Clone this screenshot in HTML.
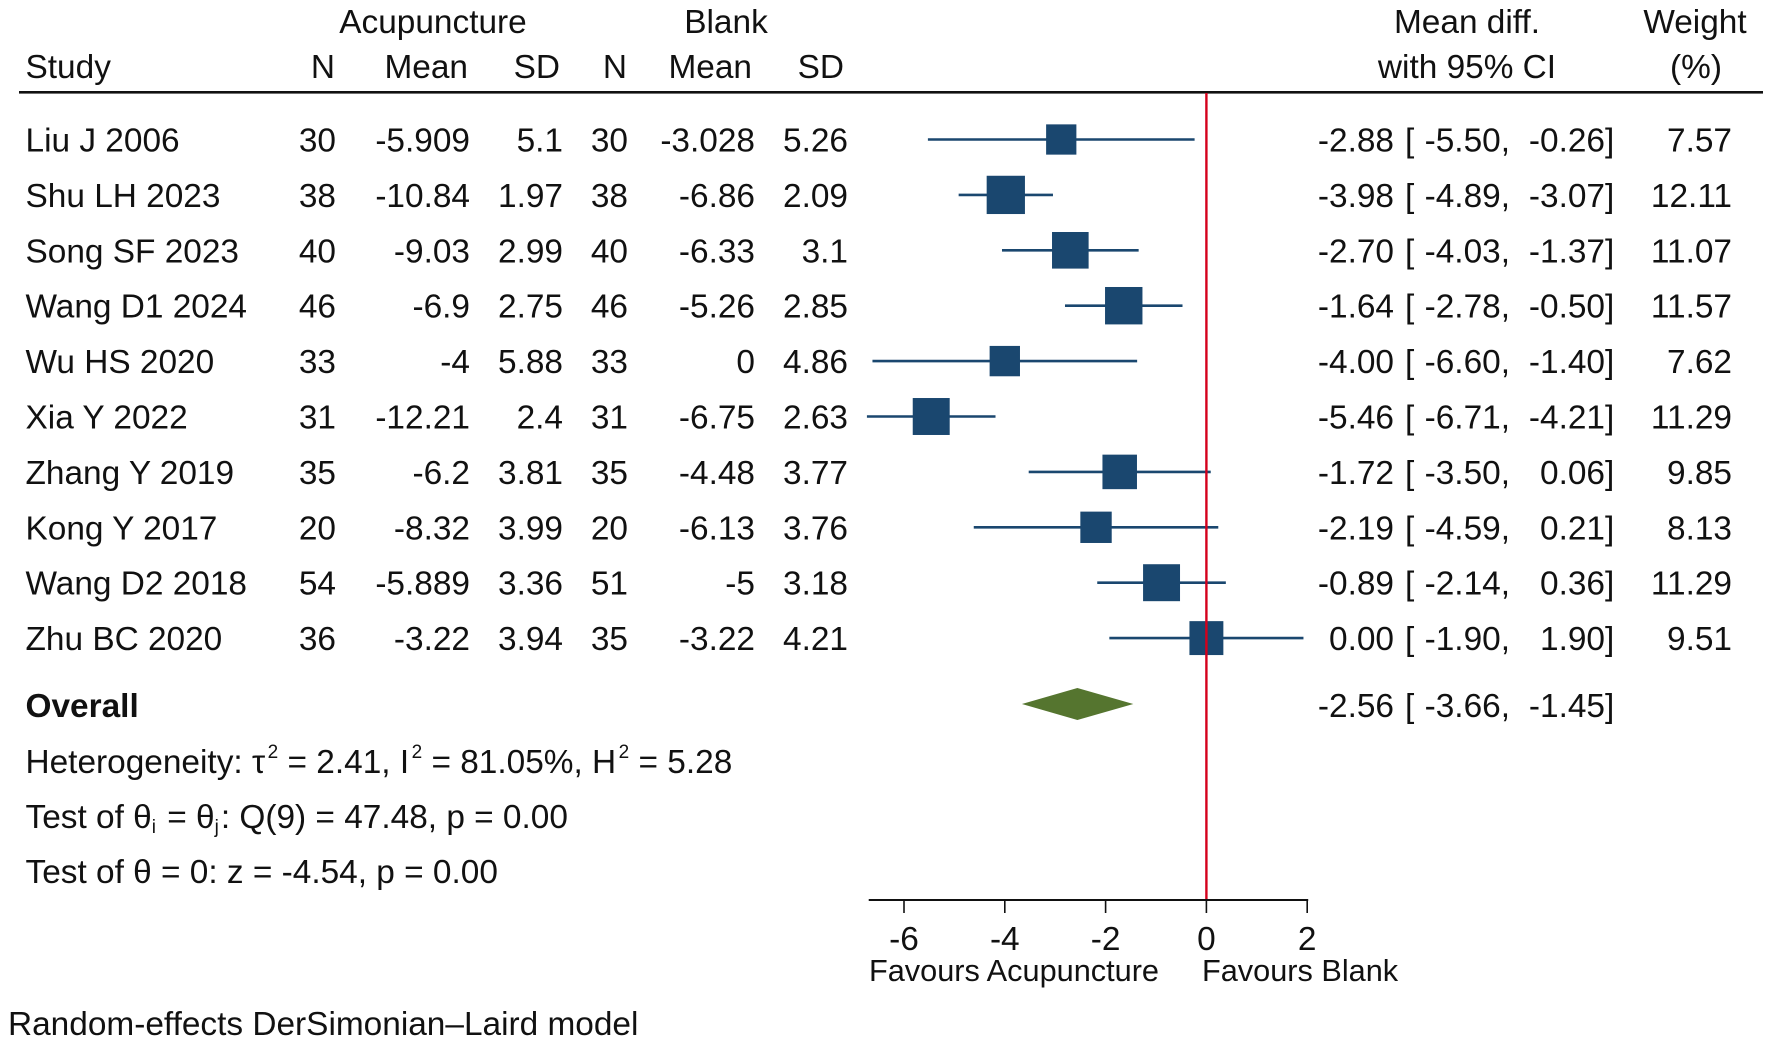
<!DOCTYPE html>
<html lang="en">
<head>
<meta charset="utf-8">
<title>Forest plot: Acupuncture vs Blank</title>
<style>
html,body{margin:0;padding:0;background:#fff;width:1772px;height:1044px;overflow:hidden}
svg{display:block}
text{font-family:"Liberation Sans",Arial,sans-serif;font-size:33.4px;fill:#111}
</style>
</head>
<body>
<svg id="plot" width="1772" height="1044" viewBox="0 0 1772 1044" xmlns="http://www.w3.org/2000/svg">
  <rect x="0" y="0" width="1772" height="1044" fill="#fff"/>
  <g id="header">
    <text x="433" y="33" text-anchor="middle">Acupuncture</text>
    <text x="726" y="33" text-anchor="middle">Blank</text>
    <text x="25.5" y="78">Study</text>
    <text x="335" y="78" text-anchor="end">N</text>
    <text x="468" y="78" text-anchor="end">Mean</text>
    <text x="560" y="78" text-anchor="end">SD</text>
    <text x="627" y="78" text-anchor="end">N</text>
    <text x="752" y="78" text-anchor="end">Mean</text>
    <text x="844" y="78" text-anchor="end">SD</text>
    <text x="1467" y="33" text-anchor="middle">Mean diff.</text>
    <text x="1467" y="78" text-anchor="middle">with 95% CI</text>
    <text x="1695" y="33" text-anchor="middle">Weight</text>
    <text x="1696" y="78" text-anchor="middle">(%)</text>
  </g>
  <rect x="19" y="91" width="1744" height="2.6" fill="#111"/>
  <g id="rows"></g>
  <g id="marks"></g>
  <g id="axis"></g>
  <g id="overall">
    <text x="25.5" y="717" font-weight="bold" style="font-weight:bold">Overall</text>
    <text x="25.5" y="773">Heterogeneity: τ<tspan dx="2.5" dy="-15" style="font-size:19px">2</tspan><tspan dy="15"> = 2.41, I</tspan><tspan dx="2.5" dy="-15" style="font-size:19px">2</tspan><tspan dy="15"> = 81.05%, H</tspan><tspan dx="2.5" dy="-15" style="font-size:19px">2</tspan><tspan dy="15"> = 5.28</tspan></text>
    <text x="25.5" y="828">Test of θ<tspan dy="5" style="font-size:19px">i</tspan><tspan dx="2" dy="-5"> = θ</tspan><tspan dy="5" style="font-size:19px">j</tspan><tspan dx="2" dy="-5">: Q(9) = 47.48, p = 0.00</tspan></text>
    <text x="25.5" y="883">Test of θ = 0: z = -4.54, p = 0.00</text>
    <text x="869" y="981" style="font-size:30.7px">Favours Acupuncture</text>
    <text x="1202" y="981" style="font-size:30.7px">Favours Blank</text>
    <text x="8" y="1035">Random-effects DerSimonian–Laird model</text>
  </g>
</svg>
<script>
const studies = ["Liu J 2006","Shu LH 2023","Song SF 2023","Wang D1 2024","Wu HS 2020","Xia Y 2022","Zhang Y 2019","Kong Y 2017","Wang D2 2018","Zhu BC 2020"];
const acuN = ["30","38","40","46","33","31","35","20","54","36"];
const acuMean = ["-5.909","-10.84","-9.03","-6.9","-4","-12.21","-6.2","-8.32","-5.889","-3.22"];
const acuSD = ["5.1","1.97","2.99","2.75","5.88","2.4","3.81","3.99","3.36","3.94"];
const blankN = ["30","38","40","46","33","31","35","20","51","35"];
const blankMean = ["-3.028","-6.86","-6.33","-5.26","0","-6.75","-4.48","-6.13","-5","-3.22"];
const blankSD = ["5.26","2.09","3.1","2.85","4.86","2.63","3.77","3.76","3.18","4.21"];
const effect = [-2.88,-3.98,-2.70,-1.64,-4.00,-5.46,-1.72,-2.19,-0.89,0.00];
const ciLow = [-5.50,-4.89,-4.03,-2.78,-6.60,-6.71,-3.50,-4.59,-2.14,-1.90];
const ciHigh = [-0.26,-3.07,-1.37,-0.50,-1.40,-4.21,0.06,0.21,0.36,1.90];
const weights = [7.57,12.11,11.07,11.57,7.62,11.29,9.85,8.13,11.29,9.51];
const overallEffect = -2.56;
const overallLow = -3.66;
const overallHigh = -1.45;
const xTicks = [-6,-4,-2,0,2];
const xDomain = [-6.7,2];

const NS = 'http://www.w3.org/2000/svg';
const xScale = v => 1206.4 + 50.4 * v;
const rowY = i => 139.5 + 55.4 * i;
const OVERALL_Y = 704;
const AXIS_Y = 900;
const NAVY = '#1a476f';
const GREEN = '#55752f';

function make(parent, tag, attrs) {
  const el = document.createElementNS(NS, tag);
  for (const k in attrs) el.setAttribute(k, attrs[k]);
  parent.appendChild(el);
  return el;
}
function label(parent, x, y, str, anchor) {
  const el = make(parent, 'text', {x: x, y: y, 'text-anchor': anchor || 'start'});
  el.textContent = str;
  return el;
}
function ciCells(parent, y, est, lo, hi) {
  const a = label(parent, 1394, y, est.toFixed(2), 'end');
  
  
  const b = label(parent, 1405, y, '[', 'start');
  
  
  const c = label(parent, 1510, y, lo.toFixed(2) + ',', 'end');
  
  
  const d = label(parent, 1605, y, hi.toFixed(2), 'end');
  
  
  const e = label(parent, 1605, y, ']', 'start');
  
  
}

const rowsG = document.getElementById('rows');
const marksG = document.getElementById('marks');
const axisG = document.getElementById('axis');

studies.forEach((name, i) => {
  const y = rowY(i) + 12;
  const s = label(rowsG, 25.5, y, name);
  
  
  const n1 = label(rowsG, 336, y, acuN[i], 'end');
  
  
  const m1 = label(rowsG, 470, y, acuMean[i], 'end');
  
  
  const d1 = label(rowsG, 563, y, acuSD[i], 'end');
  
  
  const n2 = label(rowsG, 628, y, blankN[i], 'end');
  
  
  const m2 = label(rowsG, 755, y, blankMean[i], 'end');
  
  
  const d2 = label(rowsG, 848, y, blankSD[i], 'end');
  
  
  ciCells(rowsG, y, effect[i], ciLow[i], ciHigh[i]);
  const w = label(rowsG, 1732, y, weights[i].toFixed(2), 'end');
  
  

  const line = make(marksG, 'line', {x1: xScale(ciLow[i]), x2: xScale(ciHigh[i]), y1: rowY(i), y2: rowY(i), stroke: NAVY, 'stroke-width': 2.6, 'stroke-linecap': 'square'});
  
  
  const side = 11 * Math.sqrt(weights[i]);
  const sq = make(marksG, 'rect', {x: xScale(effect[i]) - side / 2, y: rowY(i) - side / 2, width: side, height: side, fill: NAVY});
  
  
});

ciCells(rowsG, OVERALL_Y + 13, overallEffect, overallLow, overallHigh);

const pts = [[xScale(overallLow), OVERALL_Y], [xScale(overallEffect), OVERALL_Y - 16], [xScale(overallHigh), OVERALL_Y], [xScale(overallEffect), OVERALL_Y + 16]];
const diamond = make(marksG, 'polygon', {points: pts.map(p => p.join(',')).join(' '), fill: GREEN});



const refLine = make(marksG, 'line', {x1: xScale(0), x2: xScale(0), y1: 93, y2: AXIS_Y, stroke: '#d4001c', 'stroke-width': 2.4});



const axisLine = make(axisG, 'line', {x1: xScale(xDomain[0]), x2: xScale(xDomain[1]) + 1, y1: AXIS_Y, y2: AXIS_Y, stroke: '#111', 'stroke-width': 2});


xTicks.forEach(t => {
  const tick = make(axisG, 'line', {x1: xScale(t), x2: xScale(t), y1: AXIS_Y, y2: AXIS_Y + 13, stroke: '#111', 'stroke-width': 1.6});
  
  
  const tl = label(axisG, xScale(t), 950, String(t), 'middle');
  
  
});
</script>
</body>
</html>
